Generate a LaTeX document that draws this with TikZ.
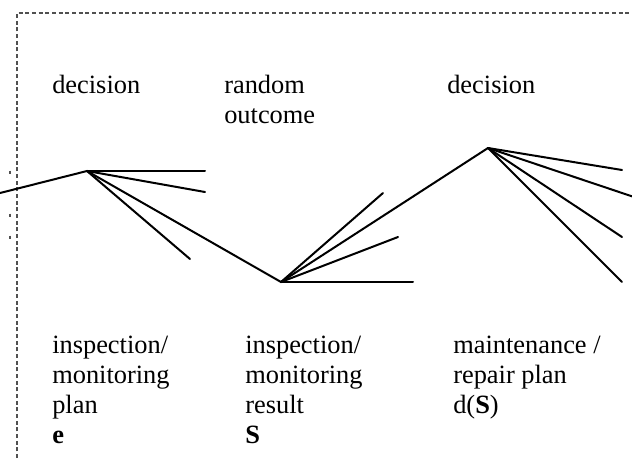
\documentclass[tikz,border=0pt]{standalone}
\usepackage{fontspec}
\setmainfont{Liberation Serif}
\usetikzlibrary{calc}
\definecolor{framegrey}{HTML}{505050}
\tikzset{
  branch/.style={line width=1.5pt,line cap=round},
  lbl/.style={anchor=base west,inner sep=0pt,align=left,font=\fontsize{19.8}{22.5}\selectfont},
  frame/.style={framegrey,line width=0.8pt,dash pattern=on 3pt off 2pt}
}

\begin{document}
\begin{tikzpicture}[x=0.75pt,y=-0.75pt]
\useasboundingbox (0,0) rectangle (632,458);
% dashed frame and stray marks
\draw[frame] (17,458) -- (17,13) -- (632,13);
\foreach \my in {172,215,237} \draw[framegrey,line width=0.8pt] (10,\my-1.5) -- (10,\my+1.5);
% decision and chance points
\coordinate (in) at (0,193);
\coordinate (dA) at (87,171);
\coordinate (rB) at (281,282);
\coordinate (dC) at (488,148);
\draw[branch] (in) -- (dA) -- (rB) -- (dC);
\foreach \n/\p in {a1/{205,171},a2/{205,192},a3/{190,259}} {
  \coordinate (\n) at (\p); \draw[branch] (dA) -- (\n);
}
\foreach \n/\p in {b1/{413,282},b2/{398,237},b3/{383,193}} {
  \coordinate (\n) at (\p); \draw[branch] (rB) -- (\n);
}
\foreach \n/\p in {c1/{622,170},c2/{634,197},c3/{622,237},c4/{622,282}} {
  \coordinate (\n) at (\p); \draw[branch] (dC) -- (\n);
}
% labels (base anchor sits on the last line)
\node[lbl] (top1) at (52,93) {decision};
\node[lbl] (top2) at (224,123) {random\\outcome};
\node[lbl] (top3) at (447,93) {decision};
\node[lbl] (bot1) at (52,443) {inspection/\\monitoring\\plan\\\textbf{e}};
\node[lbl] (bot2) at (245,443) {inspection/\\monitoring\\result\\\textbf{S}};
\node[lbl] (bot3) at (453,413) {maintenance /\\repair plan\\d(\textbf{S})};
\end{tikzpicture}
\end{document}
